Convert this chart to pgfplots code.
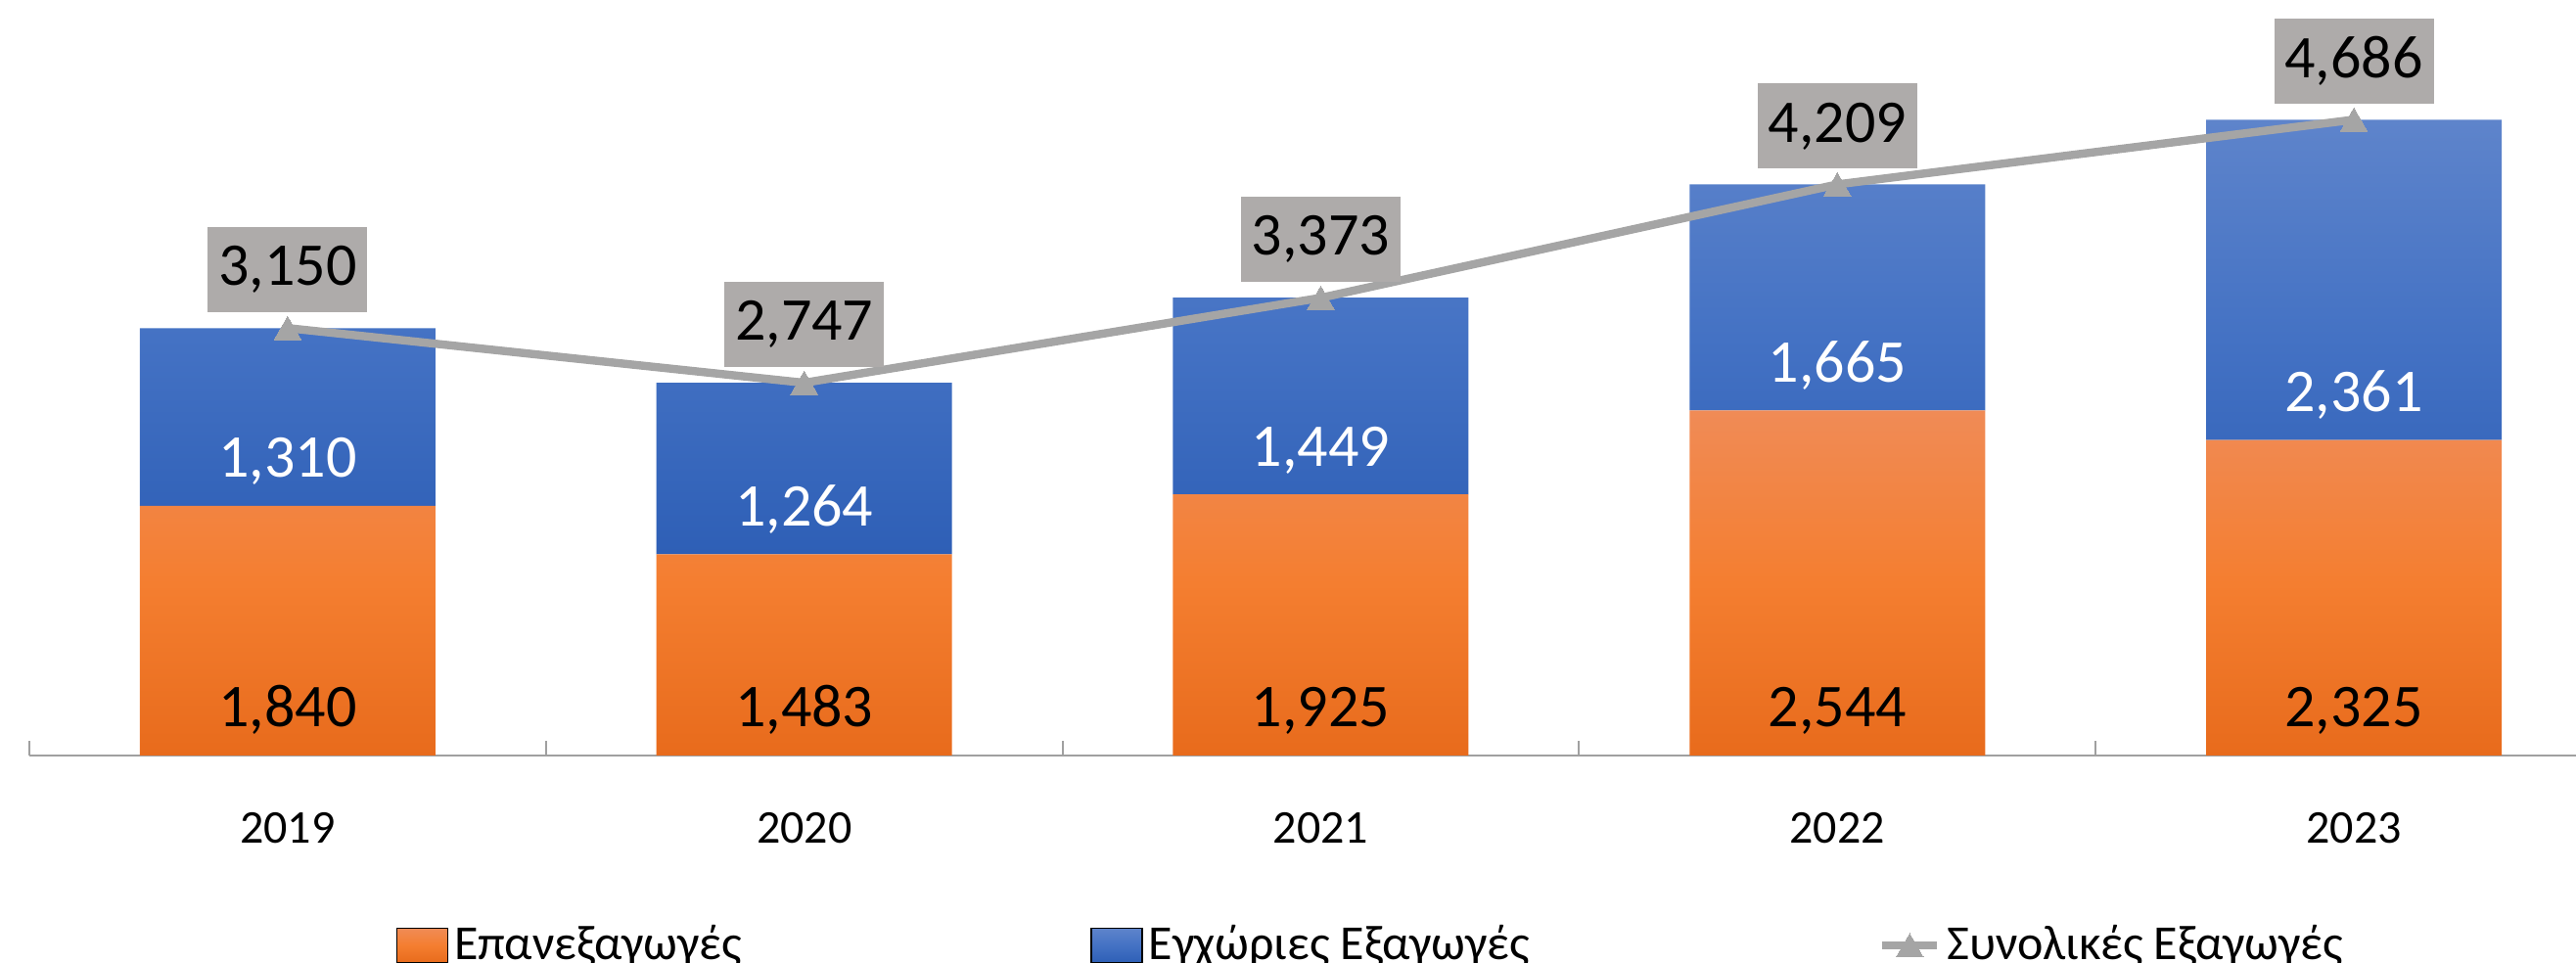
\documentclass[border=0pt]{standalone}
\usepackage{fontspec}
\setmainfont{Carlito}
\usepackage{pgfplots}
\pgfplotsset{compat=1.18}
\usepackage{pgfplotstable}

\definecolor{orT}{HTML}{F08B56}
\definecolor{orM}{HTML}{F47E30}
\definecolor{orB}{HTML}{E86B1C}
\definecolor{blT}{HTML}{5E84CB}
\definecolor{blM}{HTML}{4472C4}
\definecolor{blB}{HTML}{2E5FB6}
\definecolor{lineg}{HTML}{A5A5A5}
\definecolor{boxg}{HTML}{AEABAA}
\definecolor{axg}{HTML}{A0A0A0}

\pgfkeys{/pgf/number format/.cd, fixed, precision=0, 1000 sep={,}, assume math mode=true}

\pgfplotstableread{
x or bl tot
0 1840 1310 3150
1 1483 1264 2747
2 1925 1449 3373
3 2544 1665 4209
4 2325 2361 4686
}\data

\pgfplotsset{
 base/.style={
  scale only axis, width=650.5pt, height=193pt,
  at={(0pt,0pt)}, anchor=south west,
  xmin=-0.5, xmax=4.43, ymin=0, ymax=5568,
  clip=false,
 },
 legbar/.style={legend image code/.code={\path[##1] (0pt,-4.4pt) rectangle (13pt,4.4pt);}},
 leglin/.style={legend image code/.code={\draw[mark repeat=2, mark phase=2, ##1] plot coordinates {(0pt,0pt) (7pt,0pt) (14pt,0pt)};}},
}

\begin{document}
\begin{tikzpicture}[font=\fontsize{12}{14}\selectfont]
\useasboundingbox (-7.5pt,-53pt) rectangle (650.5pt,193pt);
\begin{axis}[base,
 ybar stacked, bar width=75.5pt,
 axis x line*=bottom, hide y axis,
 axis line style={draw=axg, line width=0.5pt},
 xtick={0,...,4}, xticklabels={2019,2020,2021,2022,2023},
 major tick length=0pt,
 minor xtick={-0.5,0.5,1.5,2.5,3.5},
 minor tick length=3.75pt, tick align=inside,
 minor tick style={draw=axg, line width=0.5pt},
 xticklabel style={font=\fontsize{12}{14}\selectfont, yshift=-11pt},
]
\addplot[draw=none, top color=orT, bottom color=orB, middle color=orM] table[x=x,y=or]{\data};
\addplot[draw=none, top color=blT, bottom color=blB, middle color=blM] table[x=x,y=bl]{\data};
\end{axis}
\begin{axis}[base, hide axis,
 legend columns=3,
 legend style={at={(rel axis cs:0.1437,-0.2513)}, anchor=west, draw=none, fill=none,
   inner sep=0pt, nodes={inner sep=0pt},
   font=\fontsize{12.5}{15}\selectfont,
   /tikz/every odd column/.append style={column sep=1.5pt},
   /tikz/every even column/.append style={column sep=89pt}},
]
\addlegendimage{legbar, top color=orT, bottom color=orB, middle color=orM}
\addlegendentry{Επανεξαγωγές}
\addlegendimage{legbar, top color=blT, bottom color=blB, middle color=blM}
\addlegendentry{Εγχώριες Εξαγωγές}
\addplot[lineg, line width=2.1pt, mark=triangle*, mark size=4pt,
  mark options={fill=lineg, draw=lineg, line width=0pt, yshift=-1pt},
  leglin,
  nodes near coords, point meta=explicit,
  every node near coord/.style={fill=boxg, text=black, anchor=south, yshift=5pt,
    minimum height=21.75pt, inner xsep=2.75pt, inner ysep=0pt,
    font=\fontsize{15.5}{18}\selectfont}]
 table[x=x, y=tot, meta=tot]{\data};
\addlegendentry{Συνολικές Εξαγωγές}
\addplot[draw=none, mark=none, forget plot, nodes near coords, point meta=explicit,
  every node near coord/.style={anchor=base, yshift=7.25pt, text=black, inner sep=0pt,
    font=\fontsize{15.5}{18}\selectfont}]
 table[x=x, y expr=0, meta=or]{\data};
\addplot[draw=none, mark=none, forget plot, nodes near coords, point meta=explicit,
  every node near coord/.style={anchor=base, yshift=7.25pt, text=white, inner sep=0pt,
    font=\fontsize{15.5}{18}\selectfont}]
 table[x=x, y=or, meta=bl]{\data};
\end{axis}
\end{tikzpicture}
\end{document}
